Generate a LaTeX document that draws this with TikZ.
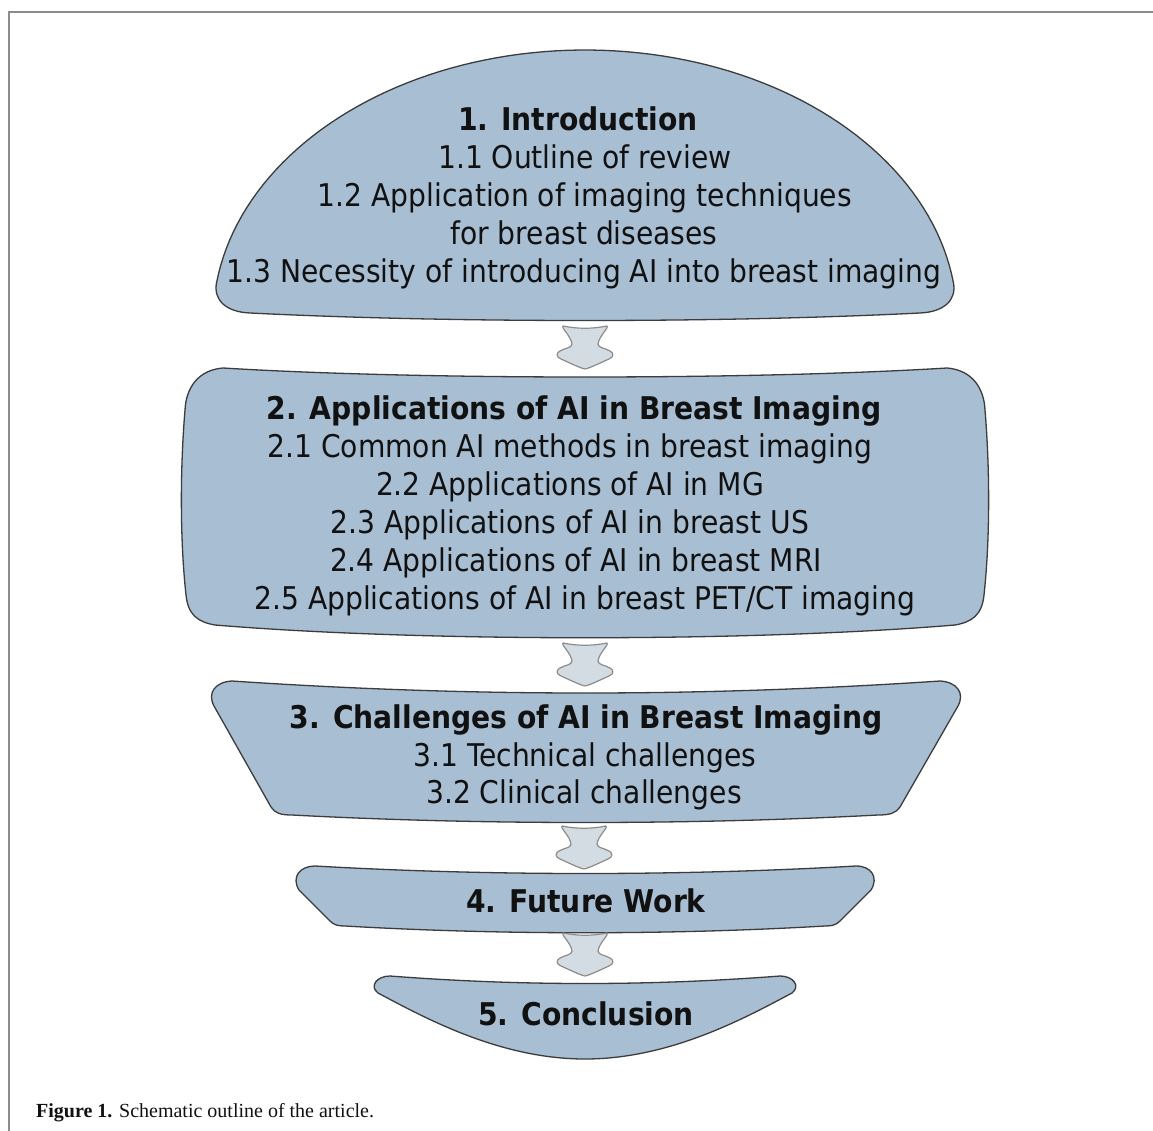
\documentclass[tikz,border=0pt]{standalone}
\usepackage{fontspec}
\newfontfamily\dvs{DejaVu Sans Condensed}
\newfontfamily\capfont{Liberation Serif}
\definecolor{slicefill}{RGB}{168,190,211}
\definecolor{sliceline}{RGB}{60,60,60}
\definecolor{arrowfill}{RGB}{212,220,227}
\definecolor{arrowline}{RGB}{140,140,140}
\definecolor{framegray}{RGB}{140,140,140}
\definecolor{ink}{RGB}{17,17,17}
\tikzset{
  slice/.style={fill=slicefill, draw=sliceline, line width=1.3pt, line join=round},
  blockarrow/.style={fill=arrowfill, draw=arrowline, line width=1.2pt, line join=round},
  head/.style={anchor=base, inner sep=0pt, text=ink, font=\dvs\bfseries\fontsize{31.3}{38}\selectfont},
  item/.style={anchor=base, inner sep=0pt, text=ink, font=\dvs\fontsize{31.3}{38}\selectfont},
  framerule/.style={draw=framegray, line width=2pt},
  downarrow/.pic={
    \path[blockarrow]
      (-22,0) .. controls (-7,3) and (7,3) .. (22,0)
      .. controls (24,2) and (14,10) .. (13,18)
      .. controls (13,22) and (20,22) .. (25,25)
      .. controls (29,27) and (29,31) .. (24,33)
      .. controls (15,37) and (5,42) .. (0,43)
      .. controls (-5,42) and (-15,37) .. (-24,33)
      .. controls (-29,31) and (-29,27) .. (-25,25)
      .. controls (-20,22) and (-13,22) .. (-13,18)
      .. controls (-14,10) and (-24,2) .. (-22,0) -- cycle;
  }
}
\begin{document}
\begin{tikzpicture}[x=1pt, y=-1pt]
\useasboundingbox (0,0) rectangle (1153,1131);
\fill[white] (0,0) rectangle (1153,1131);

% frame
\draw[framerule] (9,1131) -- (9,12) -- (1153,12);

% slice 1: dome
\path[slice] (250,313) .. controls (226,312) and (213,300) .. (216.6,282.4)
  -- plot[domain=172:8, samples=90] ({585+372*cos(\x)}, {320-270*sin(\x)})
  .. controls (957,300) and (944,312) .. (920,313)
  .. controls (720,323) and (450,323) .. (250,313) -- cycle;

% slice 2
\path[slice] (223,368) .. controls (198,370) and (186,388) .. (185,410)
  .. controls (180,470) and (180,540) .. (186,595)
  .. controls (188,615) and (198,622) .. (215,625)
  .. controls (420,642) and (750,642) .. (955,625)
  .. controls (972,622) and (982,615) .. (984,595)
  .. controls (990,540) and (990,470) .. (985,410)
  .. controls (984,388) and (972,370) .. (947,368)
  .. controls (750,380) and (420,380) .. (223,368) -- cycle;

% slice 3
\path[slice] (232,681) .. controls (215,682) and (207,693) .. (214,706)
  -- (271,807) .. controls (275,813) and (280,815) .. (292,815)
  .. controls (480,825) and (690,825) .. (878,815)
  .. controls (890,815) and (896,813) .. (900,807)
  -- (958,706) .. controls (965,693) and (957,682) .. (940,681)
  .. controls (700,697) and (470,697) .. (232,681) -- cycle;

% slice 4
\path[slice] (315,866) .. controls (300,866) and (291,877) .. (299,890)
  -- (330,921) .. controls (334,925) and (338,926) .. (345,926)
  .. controls (500,935) and (670,935) .. (825,926)
  .. controls (832,926) and (836,925) .. (840,921)
  -- (871,890) .. controls (879,877) and (871,866) .. (856,866)
  .. controls (680,876) and (490,876) .. (315,866) -- cycle;

% slice 5: bowl
\path[slice] (390,976) .. controls (377,976) and (369,986) .. (378,993)
  .. controls (425,1018) and (500,1059) .. (585,1059)
  .. controls (670,1059) and (745,1018) .. (792,993)
  .. controls (801,986) and (793,976) .. (780,976)
  .. controls (650,986) and (520,986) .. (390,976) -- cycle;

% arrows between the slices
\coordinate (a1) at (585,326);
\coordinate (a2) at (585,643);
\coordinate (a3) at (584,826);
\coordinate (a4) at (585,933);
\foreach \a in {a1,a2,a3,a4} \path (\a) pic {downarrow};

% texts of slice 1
\node[head] (h1) at (578,131) {1. Introduction};
\node[item] (i11) at (585,169) {1.1 Outline of review};
\node[item] (i12) at (585,207) {1.2 Application of imaging techniques};
\node[item] (i12b) at (584,245) {for breast diseases};
\node[item] (i13) at (584,283) {1.3 Necessity of introducing AI into breast imaging};

% texts of slice 2
\node[head] (h2) at (574,419) {2. Applications of AI in Breast Imaging};
\node[item] (i21) at (570,457) {2.1 Common AI methods in breast imaging};
\node[item] (i22) at (570,495) {2.2 Applications of AI in MG};
\node[item] (i23) at (570,533) {2.3 Applications of AI in breast US};
\node[item] (i24) at (576,571) {2.4 Applications of AI in breast MRI};
\node[item] (i25) at (585,609) {2.5 Applications of AI in breast PET/CT imaging};

% texts of slice 3
\node[head] (h3) at (586,728) {3. Challenges of AI in Breast Imaging};
\node[item] (i31) at (585,766) {3.1 Technical challenges};
\node[item] (i32) at (584,803) {3.2 Clinical challenges};

% slices 4 and 5
\node[head] (h4) at (586,912) {4. Future Work};
\node[head] (h5) at (586,1025) {5. Conclusion};

% caption
\node[anchor=base west, inner sep=0pt, text=ink, font=\capfont\fontsize{20}{24}\selectfont] (cap) at (36,1117)
  {\textbf{Figure 1.} Schematic outline of the article.};
\end{tikzpicture}
\end{document}
